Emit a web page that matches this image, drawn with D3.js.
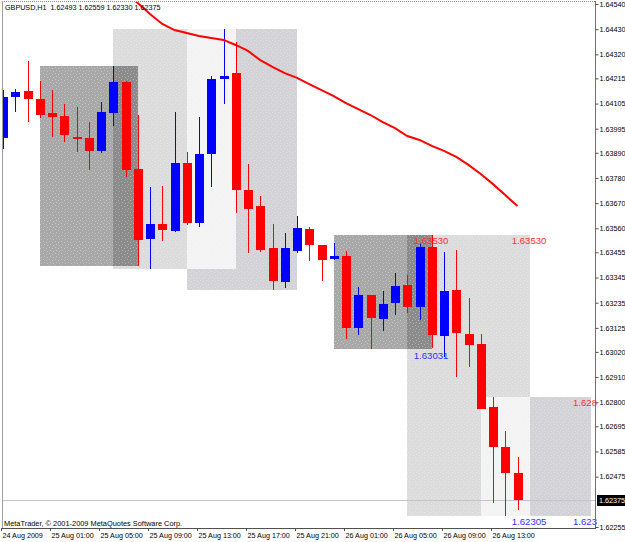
<!DOCTYPE html>
<html>
<head>
<meta charset="utf-8">
<script src="https://cdn.jsdelivr.net/npm/d3@7/dist/d3.min.js"></script>
<style>
  body { margin: 0; background: #ffffff; }
  svg { display: block; }
  text { font-family: "Liberation Sans", Arial, sans-serif; }
</style>
</head>
<body>
<div id="chart"></div>
<script>
// GBPUSD H1, one bar per hour, bar 0 = 24 Aug 2009 21:00
var symbol = "GBPUSD,H1";

var open = [1.63954, 1.64134, 1.64160, 1.64125, 1.64064, 1.64051, 1.63959, 1.63954, 1.63898, 1.64064,
  1.64199, 1.63819, 1.63513, 1.63579, 1.63548, 1.63845, 1.63583, 1.63884, 1.64212, 1.64238,
  1.63727, 1.63657, 1.63474, 1.63325, 1.63461, 1.63557, 1.63487, 1.63426, 1.63439, 1.63124,
  1.63268, 1.63163, 1.63233, 1.63312, 1.63216, 1.63478, 1.63089, 1.63290, 1.63098, 1.63054,
  1.62779, 1.62604, 1.62493];
var high = [1.64164, 1.64169, 1.64291, 1.64204, 1.64164, 1.64103, 1.64090, 1.64024, 1.64112, 1.64269,
  1.64204, 1.64055, 1.63740, 1.63745, 1.64068, 1.63893, 1.64046, 1.64225, 1.64431, 1.64374,
  1.63841, 1.63701, 1.63579, 1.63539, 1.63614, 1.63565, 1.63487, 1.63496, 1.63461, 1.63303,
  1.63268, 1.63286, 1.63364, 1.63356, 1.63496, 1.63530, 1.63456, 1.63465, 1.63255, 1.63098,
  1.62823, 1.62674, 1.62559];
var low = [1.63906, 1.64068, 1.64024, 1.64042, 1.63959, 1.63937, 1.63893, 1.63815, 1.63889, 1.64007,
  1.63784, 1.63395, 1.63382, 1.63504, 1.63544, 1.63575, 1.63565, 1.63740, 1.64103, 1.63627,
  1.63452, 1.63456, 1.63290, 1.63299, 1.63452, 1.63417, 1.63330, 1.63421, 1.63076, 1.63094,
  1.63031, 1.63111, 1.63181, 1.63190, 1.63159, 1.63036, 1.62998, 1.62910, 1.62954, 1.62770,
  1.62359, 1.62305, 1.62330];
var close = [1.64134, 1.64155, 1.64125, 1.64055, 1.64046, 1.63968, 1.63950, 1.63898, 1.64068, 1.64199,
  1.63815, 1.63509, 1.63579, 1.63552, 1.63845, 1.63583, 1.63884, 1.64212, 1.64225, 1.63727,
  1.63644, 1.63465, 1.63330, 1.63474, 1.63561, 1.63487, 1.63421, 1.63439, 1.63124, 1.63268,
  1.63168, 1.63229, 1.63308, 1.63216, 1.63478, 1.63094, 1.63286, 1.63102, 1.63050, 1.62770,
  1.62604, 1.62490, 1.62375];

// moving average, starts at bar 9 (earlier part is above the window)
var maStart = 9;
var ma = [1.64645, 1.64588, 1.64544, 1.64496, 1.64453, 1.64426, 1.64413, 1.64400, 1.64391, 1.64383,
  1.64361, 1.64335, 1.64295, 1.64265, 1.64238, 1.64217, 1.64190, 1.64164, 1.64138, 1.64107,
  1.64081, 1.64055, 1.64024, 1.63998, 1.63963, 1.63946, 1.63920, 1.63898, 1.63872, 1.63837,
  1.63797, 1.63753, 1.63705, 1.63657];

// trading sessions (bar index where the box starts / ends)
var sessionStart = [3, 9, 15, 27, 33, 39];
var sessionEnd = [11, 19, 24, 35, 43, 48];
var sessionKind = ["asia", "europe", "america", "asia", "europe", "america"];
var sessionLabel = [false, false, false, true, true, true];

// axis labels
var priceTicks = [1.64540, 1.64430, 1.64320, 1.64215, 1.64105, 1.63995, 1.63890, 1.63780, 1.63670, 1.63560,
  1.63455, 1.63345, 1.63235, 1.63125, 1.63020, 1.62910, 1.62800, 1.62695, 1.62585, 1.62475, 1.62255];
var timeTickBars = [0, 4, 8, 12, 16, 20, 24, 28, 32, 36, 40];
var timeLabels = ["24 Aug 2009", "25 Aug 01:00", "25 Aug 05:00", "25 Aug 09:00", "25 Aug 13:00",
  "25 Aug 17:00", "25 Aug 21:00", "26 Aug 01:00", "26 Aug 05:00", "26 Aug 09:00", "26 Aug 13:00"];


var W = 625, H = 542;
var plot = { left: 2, top: 2, right: 595, bottom: 528 };

var boxColor = { asia: "#a8a8a8", europe: "#dcdcdc", america: "#d3d3d7" };
var overlapColor = { "asia-europe": "#8b8b8b", "europe-america": "#f3f3f3" };
var upColor = "#0000ff", downColor = "#ff0000";

var x = d3.scaleLinear().domain([0, 48]).range([3, 3 + 12.25 * 48]);
var y = d3.scaleLinear().domain([1.62255, 1.64540]).range([527, 4]);

var svg = d3.select("#chart").append("svg")
  .attr("width", W)
  .attr("height", H);

svg.append("rect").attr("width", W).attr("height", H).attr("fill", "#ffffff");

var defs = svg.append("defs");
defs.append("clipPath").attr("id", "plotClip")
  .append("rect")
  .attr("x", plot.left).attr("y", plot.top)
  .attr("width", plot.right - plot.left).attr("height", plot.bottom - plot.top);

// dithered fill like the MT4 screenshot
function stipple(id, base) {
  var p = defs.append("pattern")
    .attr("id", id)
    .attr("patternUnits", "userSpaceOnUse")
    .attr("width", 6).attr("height", 6);
  p.append("rect").attr("width", 6).attr("height", 6).attr("fill", base);
  [[1, 1], [4, 2], [2, 4], [5, 5]].forEach(function (d) {
    p.append("rect").attr("x", d[0]).attr("y", d[1]).attr("width", 1).attr("height", 1)
      .attr("fill", "#ffffff").attr("opacity", 0.3);
  });
  return "url(#" + id + ")";
}
var fills = {};
Object.keys(boxColor).forEach(function (k) { fills[k] = stipple("st-" + k, boxColor[k]); });
Object.keys(overlapColor).forEach(function (k) { fills[k] = stipple("st-" + k, overlapColor[k]); });

var plotG = svg.append("g").attr("clip-path", "url(#plotClip)");

// session boxes, range taken from the bars inside each session
var boxes = sessionStart.map(function (s, i) {
  var e = sessionEnd[i];
  var hi = d3.max(high.slice(s + 1, e + 1));
  var lo = d3.min(low.slice(s + 1, e + 1));
  return { kind: sessionKind[i], x0: x(s), x1: x(e), hi: hi, lo: lo, label: sessionLabel[i] };
});

var boxG = plotG.append("g");
boxG.selectAll("rect.box")
  .data(boxes)
  .enter().append("rect")
  .attr("class", "box")
  .attr("x", function (d) { return Math.round(d.x0); })
  .attr("y", function (d) { return Math.round(y(d.hi)); })
  .attr("width", function (d) { return Math.round(d.x1) - Math.round(d.x0); })
  .attr("height", function (d) { return Math.round(y(d.lo)) - Math.round(y(d.hi)); })
  .attr("fill", function (d) { return fills[d.kind]; });

// overlapping parts of neighbouring sessions
var overlaps = [];
for (var i = 0; i < boxes.length - 1; i++) {
  var a = boxes[i], b = boxes[i + 1];
  var key = a.kind + "-" + b.kind;
  if (!overlapColor[key] || b.x0 >= a.x1) continue;
  overlaps.push({
    key: key,
    x0: b.x0, x1: a.x1,
    top: Math.max(Math.round(y(a.hi)), Math.round(y(b.hi))),
    bottom: Math.min(Math.round(y(a.lo)), Math.round(y(b.lo)))
  });
}
boxG.selectAll("rect.overlap")
  .data(overlaps)
  .enter().append("rect")
  .attr("class", "overlap")
  .attr("x", function (d) { return Math.round(d.x0); })
  .attr("y", function (d) { return d.top; })
  .attr("width", function (d) { return Math.round(d.x1) - Math.round(d.x0); })
  .attr("height", function (d) { return d.bottom - d.top; })
  .attr("fill", function (d) { return fills[d.key]; });

// bid line
var last = close.length - 1;
plotG.append("line")
  .attr("x1", plot.left).attr("x2", plot.right)
  .attr("y1", Math.round(y(close[last])) + 0.5)
  .attr("y2", Math.round(y(close[last])) + 0.5)
  .attr("stroke", "#c6c2d2");

// candles
var bars = d3.range(open.length).map(function (i) {
  return { i: i, o: open[i], h: high[i], l: low[i], c: close[i] };
});
var candle = plotG.append("g").selectAll("g")
  .data(bars)
  .enter().append("g");

candle.append("line")
  .attr("x1", function (d) { return Math.round(x(d.i)) + 0.5; })
  .attr("x2", function (d) { return Math.round(x(d.i)) + 0.5; })
  .attr("y1", function (d) { return Math.round(y(d.h)); })
  .attr("y2", function (d) { return Math.round(y(d.l)); })
  .attr("stroke", function (d) { return d.c >= d.o ? upColor : downColor; })
  .attr("stroke-width", 1);

candle.append("rect")
  .attr("x", function (d) { return Math.round(x(d.i)) - 4; })
  .attr("y", function (d) { return Math.round(y(Math.max(d.o, d.c))); })
  .attr("width", 9)
  .attr("height", function (d) {
    return Math.max(2, Math.round(y(Math.min(d.o, d.c))) - Math.round(y(Math.max(d.o, d.c))));
  })
  .attr("fill", function (d) { return d.c >= d.o ? upColor : downColor; });

// moving average
var line = d3.line()
  .x(function (d, i) { return x(maStart + i); })
  .y(function (d) { return y(d); });
plotG.append("path")
  .datum(ma)
  .attr("d", line)
  .attr("fill", "none")
  .attr("stroke", "#ff0000")
  .attr("stroke-width", 2);

// session high / low labels, cut off at the price scale like the terminal does
var labelled = boxes.filter(function (d) { return d.label; });
var fmt = d3.format(".5f");
function fitText(sel) {
  sel.each(function () {
    var t = d3.select(this), s = t.text(), x0 = +t.attr("x");
    while (s.length > 1 && x0 + this.getComputedTextLength() > plot.right + 4) {
      s = s.slice(0, -1);
      t.text(s);
    }
  });
}
var labelG = svg.append("g");
labelG.selectAll("text.hi")
  .data(labelled)
  .enter().append("text")
  .attr("class", "hi")
  .attr("x", function (d) { return d.x1 - 18; })
  .attr("y", function (d) { return y(d.hi) + 9; })
  .attr("font-size", 9.6)
  .attr("fill", "#ff3030")
  .text(function (d) { return fmt(d.hi); })
  .call(fitText);
labelG.selectAll("text.lo")
  .data(labelled)
  .enter().append("text")
  .attr("class", "lo")
  .attr("x", function (d) { return d.x1 - 18; })
  .attr("y", function (d) { return y(d.lo) + 9.5; })
  .attr("font-size", 9.6)
  .attr("fill", "#3030ff")
  .text(function (d) { return fmt(d.lo); })
  .call(fitText);

// header + copyright
svg.append("text")
  .attr("x", 5).attr("y", 10)
  .attr("font-size", 7.2)
  .attr("fill", "#000")
  .attr("xml:space", "preserve")
  .text(symbol + "  " + [open[last], high[last], low[last], close[last]].map(fmt).join(" "));

svg.append("text")
  .attr("x", 4).attr("y", 525.5)
  .attr("font-size", 7.4)
  .attr("fill", "#000")
  .text("MetaTrader, \u00a9 2001-2009 MetaQuotes Software Corp.");

// frame
svg.append("line").attr("x1", plot.left).attr("x2", plot.right).attr("y1", 1.5).attr("y2", 1.5)
  .attr("stroke", "#909090").attr("stroke-dasharray", "1,1");
svg.append("line").attr("x1", 2.5).attr("x2", 2.5).attr("y1", 1).attr("y2", plot.bottom)
  .attr("stroke", "#a0a0a0");
svg.append("line").attr("x1", 595.5).attr("x2", 595.5).attr("y1", 1).attr("y2", plot.bottom + 1)
  .attr("stroke", "#707070");
svg.append("line").attr("x1", 2).attr("x2", 596).attr("y1", plot.bottom + 0.5).attr("y2", plot.bottom + 0.5)
  .attr("stroke", "#505050");

// price axis
var yAxis = svg.append("g")
  .attr("transform", "translate(595.5,0)")
  .call(d3.axisRight(y).tickValues(priceTicks).tickSize(3).tickPadding(1).tickFormat(fmt));
yAxis.select(".domain").remove();
yAxis.selectAll("text").attr("font-size", 7.2).attr("font-family", "Liberation Sans, Arial, sans-serif").attr("fill", "#000");
yAxis.selectAll("line").attr("stroke", "#505050");

// current price tag
var by = Math.round(y(close[last]));
svg.append("rect").attr("x", 597).attr("y", by - 5).attr("width", 28).attr("height", 11).attr("fill", "#000");
svg.append("text").attr("x", 599).attr("y", by + 3).attr("font-size", 7.2).attr("fill", "#fff")
  .text(fmt(close[last]));

// time axis
var xAxis = svg.append("g")
  .attr("transform", "translate(-2," + plot.bottom + ")")
  .call(d3.axisBottom(x).tickValues(timeTickBars).tickSize(3).tickPadding(2)
    .tickFormat(function (d, i) { return timeLabels[i]; }));
xAxis.select(".domain").remove();
xAxis.selectAll("line").attr("stroke", "#505050");
xAxis.selectAll("text")
  .attr("text-anchor", "start")
  .attr("x", 1)
  .attr("font-size", 7.2)
  .attr("font-family", "Liberation Sans, Arial, sans-serif")
  .attr("fill", "#000");
</script>
</body>
</html>
